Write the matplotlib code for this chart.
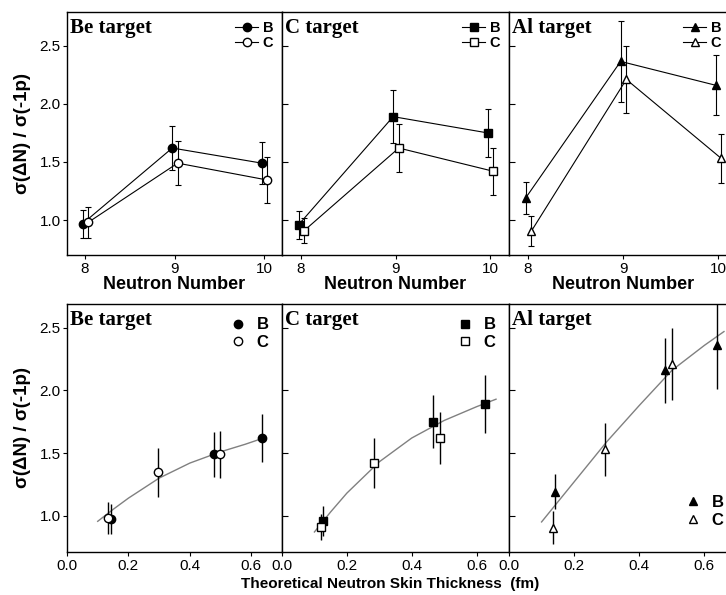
import numpy as np
import matplotlib
matplotlib.use('Agg')
import matplotlib.pyplot as plt

plt.rcParams['font.family'] = ['Liberation Sans', 'DejaVu Sans']
plt.rcParams['axes.linewidth'] = 1.0

# top row: ratio vs neutron number
neutron = [8, 9, 10]
be_B = [0.97, 1.62, 1.49]
be_B_err = [0.12, 0.19, 0.18]
be_C = [0.98, 1.49, 1.345]
be_C_err = [0.13, 0.19, 0.195]
c_B = [0.96, 1.89, 1.75]
c_B_err = [0.12, 0.23, 0.21]
c_C = [0.91, 1.62, 1.42]
c_C_err = [0.105, 0.21, 0.20]
al_B = [1.19, 2.365, 2.16]
al_B_err = [0.14, 0.35, 0.26]
al_C = [0.905, 2.21, 1.53]
al_C_err = [0.13, 0.29, 0.21]

# bottom row: theoretical neutron skin thickness (fm) for N = 8, 9, 10
be_B_skin = [0.142, 0.636, 0.477]
be_C_skin = [0.133, 0.497, 0.295]
c_B_skin = [0.127, 0.626, 0.466]
c_C_skin = [0.121, 0.486, 0.283]
al_B_skin = [0.142, 0.639, 0.478]
al_C_skin = [0.134, 0.500, 0.295]

# gray fit curves
be_fit_x = [0.10, 0.15, 0.20, 0.30, 0.40, 0.50, 0.58, 0.64]
be_fit_y = [0.955, 1.05, 1.14, 1.30, 1.42, 1.51, 1.57, 1.62]
c_fit_x = [0.10, 0.15, 0.20, 0.30, 0.40, 0.50, 0.60, 0.66]
c_fit_y = [0.87, 1.03, 1.18, 1.43, 1.62, 1.76, 1.87, 1.93]
al_fit_x = [0.10, 0.15, 0.20, 0.30, 0.40, 0.50, 0.60, 0.66]
al_fit_y = [0.95, 1.11, 1.27, 1.59, 1.88, 2.16, 2.36, 2.47]

targets = ['Be target', 'C target', 'Al target']
markers = ['o', 's', '^']
ylabel = 'σ(ΔN) / σ(-1p)'

W, H = 726.0, 595.0
# panel columns in pixels (left, right); the last one runs past the image edge
cols = [(67, 282), (282, 509), (509, 737)]


def make_axes(fig, top, bottom):
    axes = []
    for l, r in cols:
        axes.append(fig.add_axes([l / W, 1 - bottom / H, (r - l) / W, (bottom - top) / H]))
    return axes


def style_axes(axes, ylim):
    for i, ax in enumerate(axes):
        ax.set_ylim(*ylim)
        ax.set_yticks([1.0, 1.5, 2.0, 2.5])
        ax.tick_params(axis='x', direction='out', length=3, width=0.8, labelsize=11, pad=2)
        if i == 0:
            ax.tick_params(axis='y', direction='out', length=3, width=0.8, labelsize=11, pad=1.5)
            ax.yaxis.set_major_formatter(plt.FormatStrFormatter('%.1f'))
            ax.set_ylabel(ylabel, fontsize=13.5, fontweight='bold', labelpad=6)
        else:
            ax.tick_params(axis='y', direction='in', length=4, width=0.8, labelleft=False)
        ax.text(0.012, 0.975, targets[i], transform=ax.transAxes, ha='left', va='top',
                fontsize=15, fontweight='bold', family='Liberation Serif')


fig = plt.figure(figsize=(W / 100, H / 100), dpi=100)

top_axes = make_axes(fig, 12, 255)
top_data = [(be_B, be_B_err, be_C, be_C_err),
            (c_B, c_B_err, c_C, c_C_err),
            (al_B, al_B_err, al_C, al_C_err)]
n = np.array(neutron)
for i, ax in enumerate(top_axes):
    yb, eb, yc, ec = top_data[i]
    ax.errorbar(n - 0.025, yb, yerr=eb, fmt=markers[i] + '-', color='k', mfc='k', mec='k',
                ms=6, lw=0.8, elinewidth=0.8, capsize=2.5, capthick=0.8, label='B')
    ax.errorbar(n + 0.035, yc, yerr=ec, fmt=markers[i] + '-', color='k', mfc='white', mec='k',
                ms=6, lw=0.8, elinewidth=0.8, capsize=2.5, capthick=0.8, label='C')
    ax.set_xlim(7.8, 10.2)
    ax.set_xticks(neutron)
    ax.set_xlabel('Neutron Number', fontsize=13, fontweight='bold', labelpad=0)
    handles, labels = ax.get_legend_handles_labels()
    handles = [h[0] for h in handles]
    shift = 7.0 / 228 if i == 2 else 0.0
    ax.legend(handles, labels, loc='upper right', bbox_to_anchor=(1 - shift, 1),
              frameon=False, handlelength=1.6, handletextpad=0.3, borderaxespad=0.2,
              labelspacing=0.1, prop={'weight': 'bold', 'size': 10.5})
style_axes(top_axes, (0.70, 2.79))

bot_axes = make_axes(fig, 304, 552)
bot_data = [(be_B_skin, be_B, be_B_err, be_C_skin, be_C, be_C_err, be_fit_x, be_fit_y),
            (c_B_skin, c_B, c_B_err, c_C_skin, c_C, c_C_err, c_fit_x, c_fit_y),
            (al_B_skin, al_B, al_B_err, al_C_skin, al_C, al_C_err, al_fit_x, al_fit_y)]
for i, ax in enumerate(bot_axes):
    xb, yb, eb, xc, yc, ec, fx, fy = bot_data[i]
    ax.plot(fx, fy, '-', color='#808080', lw=1.0, zorder=1)
    ax.errorbar(xb, yb, yerr=eb, fmt=markers[i], color='k', mfc='k', mec='k',
                ms=6, elinewidth=1.0, capsize=0, label='B', zorder=3)
    ax.errorbar(xc, yc, yerr=ec, fmt=markers[i], color='k', mfc='white', mec='k',
                ms=6, elinewidth=1.0, capsize=0, label='C', zorder=3)
    ax.set_xlim(0, 0.7)
    ax.set_xticks([0.0, 0.2, 0.4, 0.6])
    ax.xaxis.set_major_formatter(plt.FormatStrFormatter('%.1f'))
    handles, labels = ax.get_legend_handles_labels()
    handles = [h[0] for h in handles]
    if i == 2:
        ax.legend(handles, labels, loc='lower right', bbox_to_anchor=(1, 11.0 / 248),
                  frameon=False, handlelength=1.0, handletextpad=0.6, borderaxespad=0.4,
                  labelspacing=0.15, prop={'weight': 'bold', 'size': 12})
    else:
        ax.legend(handles, labels, loc='upper right', frameon=False, handlelength=1.0,
                  handletextpad=0.6, borderaxespad=0.4, labelspacing=0.15,
                  prop={'weight': 'bold', 'size': 12})
style_axes(bot_axes, (0.71, 2.69))

fig.text(390 / W, 1 - 584 / H, 'Theoretical Neutron Skin Thickness  (fm)', ha='center', va='center',
         fontsize=11, fontweight='bold')

fig.savefig('out.png', dpi=100)
